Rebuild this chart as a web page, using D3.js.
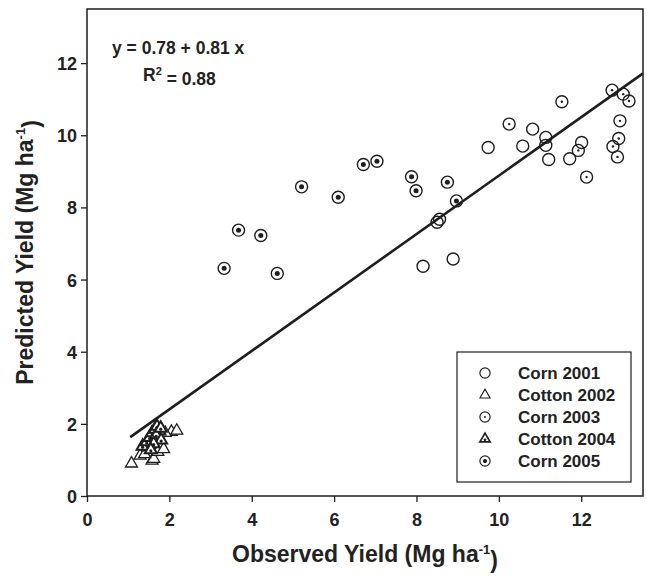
<!DOCTYPE html>
<html>
<head>
<meta charset="utf-8">
<script src="https://cdn.jsdelivr.net/npm/d3@7"></script>
<style>
  body { margin: 0; background: #fff; }
  svg text { font-family: "Liberation Sans", Arial, sans-serif; font-weight: bold; fill: #222; }
</style>
</head>
<body>
<script>
// Observed vs predicted yield (Mg ha-1)
const corn2001 = [
  [8.50, 7.59], [8.56, 7.67], [8.16, 6.37], [8.89, 6.57], [9.74, 9.66], [10.58, 9.70],
  [10.82, 10.17], [11.14, 9.94], [11.14, 9.72], [11.21, 9.33], [11.72, 9.35], [12.01, 9.80]
];
const cotton2002 = [
  [1.08, 0.90], [1.58, 0.98], [1.62, 1.03], [1.29, 1.12], [1.40, 1.16], [1.72, 1.22],
  [1.86, 1.30], [1.50, 1.35], [2.05, 1.78], [2.18, 1.81], [1.66, 1.55], [1.90, 1.75]
];
const corn2003 = [
  [10.25, 10.31], [11.53, 10.93], [11.93, 9.58], [12.13, 8.84], [12.75, 11.25], [13.02, 11.14],
  [13.16, 10.95], [12.94, 10.40], [12.91, 9.91], [12.77, 9.69], [12.88, 9.40]
];
const cotton2004 = [
  [1.35, 1.38], [1.45, 1.50], [1.52, 1.62], [1.58, 1.75], [1.65, 1.85], [1.70, 1.93],
  [1.76, 1.80], [1.68, 1.68], [1.80, 1.55], [1.62, 1.45], [1.55, 1.28], [1.79, 1.88]
];
const corn2005 = [
  [3.33, 6.31], [3.68, 7.37], [4.22, 7.22], [4.62, 6.17], [5.21, 8.57], [6.10, 8.28],
  [6.71, 9.19], [7.04, 9.28], [7.88, 8.85], [7.99, 8.46], [8.75, 8.70], [8.97, 8.18]
];

const fitIntercept = 0.78;
const fitSlope = 0.81;
const fitRange = [1.05, 13.5];
const xTicks = [0, 2, 4, 6, 8, 10, 12];
const yTicks = [0, 2, 4, 6, 8, 10, 12];
const legendNames = ["Corn 2001", "Cotton 2002", "Corn 2003", "Cotton 2004", "Corn 2005"];

const ink = "#1e1e1e";
const margin = { top: 9, right: 4, bottom: 81, left: 87 };
const width = 647 - margin.left - margin.right;
const height = 577 - margin.top - margin.bottom;

const svg = d3.select("body").append("svg")
    .attr("width", 647)
    .attr("height", 577);

const g = svg.append("g")
    .attr("transform", `translate(${margin.left},${margin.top})`);

const x = d3.scaleLinear().domain([0, 13.5]).range([0, width]);
const y = d3.scaleLinear().domain([0, 13.5]).range([height, 0]);

// axes
const xAxis = g.append("g")
    .attr("transform", `translate(0,${height})`)
    .call(d3.axisBottom(x).tickValues(xTicks).tickSize(6).tickPadding(11));
const yAxis = g.append("g")
    .call(d3.axisLeft(y).tickValues(yTicks).tickSize(6).tickPadding(4));

[xAxis, yAxis].forEach(a => {
    a.select(".domain").remove();
    a.selectAll("line").attr("stroke", ink).attr("stroke-width", 1.3);
    a.selectAll("text").style("font-size", "18px").style("fill", "#222")
        .style("font-family", "'Liberation Sans', Arial, sans-serif").style("font-weight", "bold");
});
yAxis.selectAll("text").attr("dy", "0.36em");

// frame
g.append("rect")
    .attr("width", width)
    .attr("height", height)
    .attr("fill", "none")
    .attr("stroke", ink)
    .attr("stroke-width", 1.5);

// axis titles
const xTitle = svg.append("text")
    .attr("x", margin.left + width / 2)
    .attr("y", 562)
    .attr("text-anchor", "middle")
    .style("font-size", "23px");
xTitle.append("tspan").text("Observed Yield (Mg ha");
xTitle.append("tspan").attr("dy", "-0.6em").style("font-size", "13px").text("-1");
xTitle.append("tspan").attr("dy", "0.6em").text(")");

const yTitle = svg.append("text")
    .attr("transform", `translate(33,${margin.top + height / 2}) rotate(-90)`)
    .attr("text-anchor", "middle")
    .style("font-size", "23px");
yTitle.append("tspan").text("Predicted Yield (Mg ha");
yTitle.append("tspan").attr("dy", "-0.6em").style("font-size", "13px").text("-1");
yTitle.append("tspan").attr("dy", "0.6em").text(")");

// regression equation
g.append("text")
    .attr("x", 25)
    .attr("y", 45)
    .style("font-size", "17.5px")
    .text(`y = ${fitIntercept} + ${fitSlope} x`);
const r2 = g.append("text")
    .attr("x", 56)
    .attr("y", 72)
    .style("font-size", "17.5px");
r2.append("tspan").text("R");
r2.append("tspan").attr("dy", "-0.55em").style("font-size", "11px").text("2");
r2.append("tspan").attr("dy", "0.55em").text(" = 0.88");

// fitted line
const fitLine = fitRange.map(v => [v, fitIntercept + fitSlope * v]);
g.append("path")
    .datum(fitLine)
    .attr("fill", "none")
    .attr("stroke", ink)
    .attr("stroke-width", 2.6)
    .attr("d", d3.line().x(d => x(d[0])).y(d => y(d[1])));

// marker drawers
const tri = d3.symbol().type(d3.symbolTriangle).size(62);

function drawMarker(sel, kind) {
    if (kind === "circle" || kind === "circleDot" || kind === "circleBigDot") {
        sel.append("circle").attr("r", 6)
            .attr("fill", "none").attr("stroke", ink).attr("stroke-width", 1.4);
        if (kind === "circleDot") sel.append("circle").attr("r", 1.2).attr("fill", ink);
        if (kind === "circleBigDot") sel.append("circle").attr("r", 2.5).attr("fill", ink);
    } else {
        sel.append("path").attr("d", tri)
            .attr("fill", "#fff").attr("stroke", ink)
            .attr("stroke-width", kind === "triDot" ? 2 : 1.3);
        if (kind === "triDot") sel.append("circle").attr("r", 1.6).attr("cy", 1).attr("fill", ink);
    }
}

const series = [
    { data: corn2001, kind: "circle" },
    { data: cotton2002, kind: "tri" },
    { data: corn2003, kind: "circleDot" },
    { data: cotton2004, kind: "triDot" },
    { data: corn2005, kind: "circleBigDot" }
];

series.forEach(s => {
    g.append("g").selectAll("g")
        .data(s.data)
        .enter()
        .append("g")
        .attr("transform", d => `translate(${x(d[0])},${y(d[1])})`)
        .each(function() { drawMarker(d3.select(this), s.kind); });
});

// legend
const legend = svg.append("g").attr("transform", "translate(457,352)");
legend.append("rect")
    .attr("width", 174)
    .attr("height", 130)
    .attr("fill", "#fff")
    .attr("stroke", ink)
    .attr("stroke-width", 1.2);

const items = legend.selectAll(".item")
    .data(series)
    .enter()
    .append("g")
    .attr("class", "item")
    .attr("transform", (d, i) => `translate(0,${21 + i * 22})`);

items.append("g")
    .attr("transform", "translate(28,0) scale(0.85)")
    .each(function(d) { drawMarker(d3.select(this), d.kind); });

items.append("text")
    .attr("x", 61)
    .attr("dy", "0.36em")
    .style("font-size", "17px")
    .text((d, i) => legendNames[i]);
</script>
</body>
</html>
